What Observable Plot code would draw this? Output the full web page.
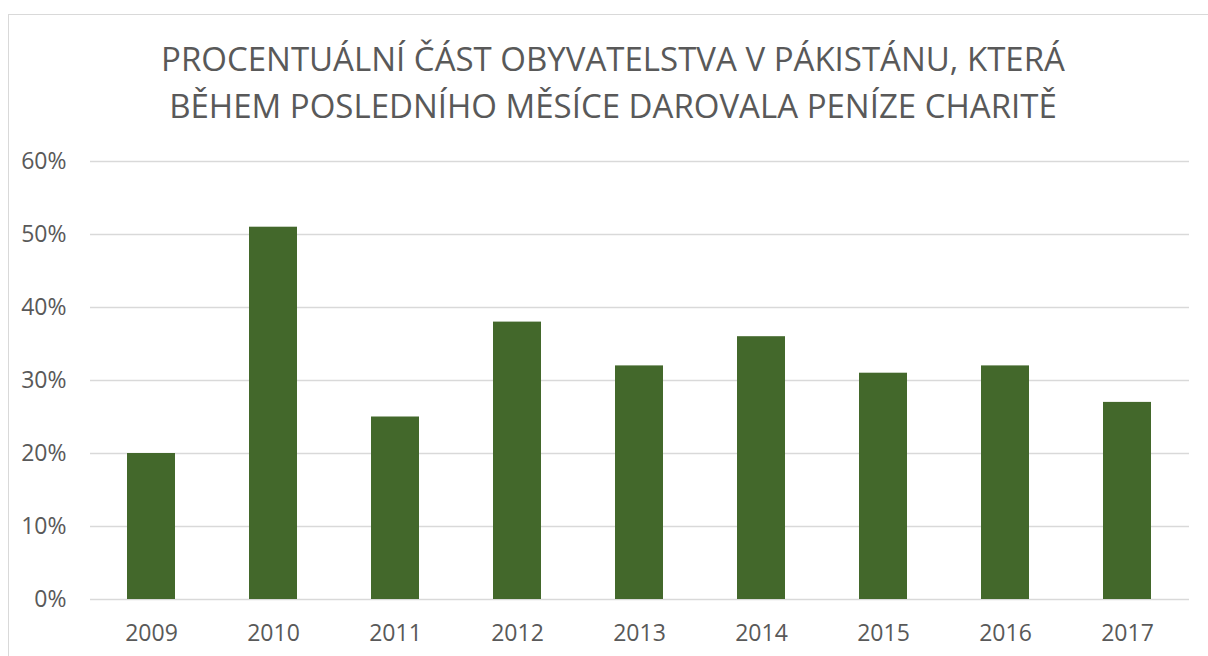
<!DOCTYPE html>
<html>
<head>
<meta charset="utf-8">
<script src="https://cdn.jsdelivr.net/npm/d3@7"></script>
<script src="https://cdn.jsdelivr.net/npm/@observablehq/plot@0.6"></script>
<style>
  html, body { margin: 0; padding: 0; background: #fff; width: 1208px; height: 656px; overflow: hidden; }
  #frame { position: absolute; left: 8px; top: 14px; width: 1220px; height: 660px; border: 1.5px solid #d9d9d9; box-sizing: border-box; }
  #title { position: absolute; left: 0; top: 35px; width: 1226px; text-align: center; font-family: "Open Sans", sans-serif; font-size: 33px; line-height: 47px; color: #595959; }
  #chart { position: absolute; left: 0; top: 0; }
</style>
</head>
<body>
<div id="frame"></div>
<div id="title">PROCENTUÁLNÍ ČÁST OBYVATELSTVA V PÁKISTÁNU, KTERÁ<br>BĚHEM POSLEDNÍHO MĚSÍCE DAROVALA PENÍZE CHARITĚ</div>
<div id="chart"></div>
<script>
const years = ["2009", "2010", "2011", "2012", "2013", "2014", "2015", "2016", "2017"];
const shares = [0.20, 0.51, 0.25, 0.38, 0.32, 0.36, 0.31, 0.32, 0.27];
const yTicks = [0, 0.1, 0.2, 0.3, 0.4, 0.5, 0.6];

const data = years.map((y, i) => ({year: y, share: shares[i]}));

const plot = Plot.plot({
  width: 1208,
  height: 656,
  marginLeft: 90,
  marginRight: 19,
  marginTop: 161,
  marginBottom: 57,
  style: { fontFamily: "Open Sans, sans-serif", fontSize: "23px", color: "#595959", background: "transparent" },
  x: { domain: years, paddingInner: 0.605, paddingOuter: 0.3025, label: null },
  y: { domain: [0, 0.6], label: null },
  marks: [
    Plot.gridY(yTicks, { stroke: "#d9d9d9", strokeOpacity: 1, strokeWidth: 1.5 }),
    Plot.barY(data, { x: "year", y: "share", fill: "#43682b" }),
    Plot.axisY(yTicks, { tickFormat: d => Math.round(d * 100) + "%", tickSize: 0, tickPadding: 24, fill: "#595959" }),
    Plot.axisX({ tickSize: 0, tickPadding: 25, fill: "#595959" })
  ]
});
document.getElementById("chart").appendChild(plot);
</script>
</body>
</html>
